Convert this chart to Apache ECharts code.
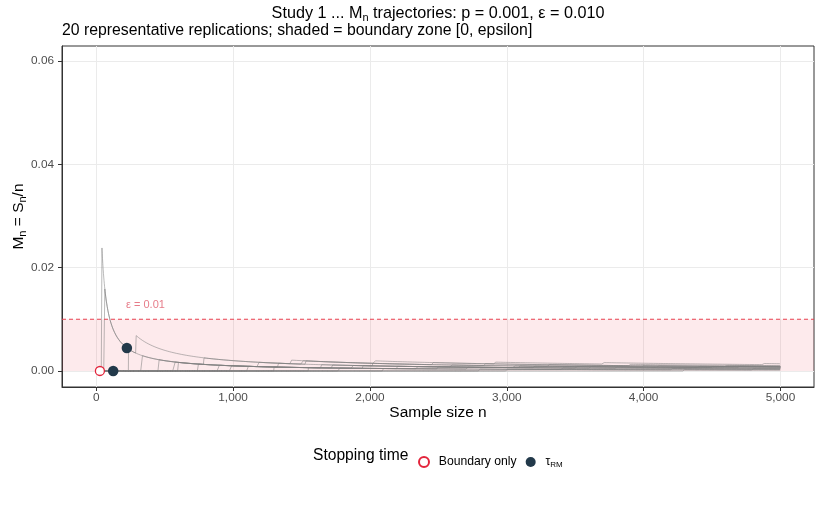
<!DOCTYPE html>
<html><head><meta charset="utf-8">
<script src="https://cdn.jsdelivr.net/npm/echarts@6/dist/echarts.min.js"></script>
<style>html,body{margin:0;padding:0;background:#fff}#c{width:821px;height:510px}</style>
</head><body><div id="c"></div>
<script>
// ---- data ----
const EPSILON = 0.01;
const N_MAX = 5000;
const X_MIN = -250, X_MAX = 5245;
const Y_MIN = -0.0031, Y_MAX = 0.0629;
// n at which each replication records a success (S_n increments); M_n = S_n / n
const rep01 = [42, 292, 1428, 2040, 2920, 3700, 4870];
const rep02 = [63];
const rep03 = [];
const rep04 = [];
const rep05 = [236, 788, 1533, 2462];
const rep06 = [338, 1190, 2020, 2840, 3900];
const rep07 = [460, 1333, 1513, 3300];
const rep08 = [577, 1647, 2600, 4100];
const rep09 = [601, 1728, 3050];
const rep10 = [747, 1878, 3500, 4500];
const rep11 = [990, 2200, 3200, 4700];
const rep12 = [1112, 2350, 3800];
const rep13 = [1781, 2700];
const rep14 = [1300, 2500, 3600, 4400];
const rep15 = [2100, 3400];
const rep16 = [1550, 4200];
const rep17 = [2800];
const rep18 = [900, 1950, 3100, 4000, 4600];
const rep19 = [3000, 4800];
const rep20 = [4300];
const successTimes = [rep01, rep02, rep03, rep04, rep05, rep06, rep07, rep08, rep09, rep10,
                      rep11, rep12, rep13, rep14, rep15, rep16, rep17, rep18, rep19, rep20];
// stopping time of each replication (N_MAX = ran to the end)
const stopTimes = [N_MAX, 224, 27, 124, N_MAX, N_MAX, N_MAX, N_MAX, N_MAX, N_MAX,
                   N_MAX, N_MAX, N_MAX, N_MAX, N_MAX, N_MAX, N_MAX, N_MAX, N_MAX, N_MAX];
// stopping rule that fired ('boundary', 'rm', or '' when none)
const stopRule = ['', 'rm', 'boundary', 'rm', '', '', '', '', '', '',
                  '', '', '', '', '', '', '', '', '', ''];
const xTicks = [0, 1000, 2000, 3000, 4000, 5000];
const yTicks = [0, 0.02, 0.04, 0.06];
const epsLabelN = 360;
const epsLabelM = 0.0127;

// ---- build ----
function trajectory(succ, stop) {
  const pts = []; let s = 0, j = 0;
  for (let n = 1; n <= stop; n++) {
    while (j < succ.length && succ[j] === n) { s++; j++; }
    pts.push([n, s / n]);
  }
  return pts;
}
const trajs = successTimes.map((s, i) => trajectory(s, stopTimes[i]));
const boundaryPts = [], rmPts = [];
trajs.forEach((t, i) => {
  const last = t[t.length - 1];
  if (stopRule[i] === 'boundary') boundaryPts.push(last);
  if (stopRule[i] === 'rm') rmPts.push(last);
});

const FONT = '"Liberation Sans", Arial, Helvetica, sans-serif';
const series = [];
// boundary zone band
series.push({
  type: 'line', name: 'zone', data: [], silent: true, z: 0,
  markArea: {
    silent: true,
    itemStyle: { color: 'rgba(240,60,80,0.11)', borderWidth: 0 },
    data: [[{ yAxis: 0 }, { yAxis: EPSILON }]]
  }
});
trajs.forEach((t, i) => series.push({
  type: 'line', name: 'rep' + (i + 1), data: t, showSymbol: false, symbol: 'none',
  clip: false, silent: true, z: 2,
  itemStyle: { color: '#7f7f7f' },
  lineStyle: { color: 'rgba(127,127,127,0.6)', width: 0.9 }
}));
// epsilon threshold line
series.push({
  type: 'line', name: 'epsLine', data: [[X_MIN, EPSILON], [X_MAX, EPSILON]],
  showSymbol: false, symbol: 'none', silent: true, z: 4,
  emphasis: { disabled: true },
  color: '#E8404F',
  itemStyle: { color: '#E8404F' },
  lineStyle: { color: '#E8404F', type: [4, 3], width: 1.1 }
});
series.push({
  type: 'scatter', name: 'eps', data: [[epsLabelN, epsLabelM]], symbolSize: 0, silent: true, z: 3,
  itemStyle: { color: '#E04A5A' },
  label: { show: true, position: 'inside', formatter: 'ε = 0.01', color: '#E05A6A',
           fontFamily: FONT, fontSize: 11 }
});
series.push({
  type: 'scatter', name: 'Boundary only', data: boundaryPts, symbol: 'circle', symbolSize: 9, z: 5,
  itemStyle: { color: '#ffffff', borderColor: '#E3243B', borderWidth: 1.3, opacity: 1 }
});
series.push({
  type: 'scatter', name: 'tau', data: rmPts, symbol: 'circle', symbolSize: 10.5, z: 5,
  itemStyle: { color: '#22394A', borderWidth: 0, opacity: 1 }
});

const chart = echarts.init(document.getElementById('c'), null, { renderer: 'canvas' });
chart.setOption({
  animation: false,
  backgroundColor: '#ffffff',
  textStyle: { fontFamily: FONT },
  title: [{
    text: 'Study 1 ... M{sub|n} trajectories: p = 0.001, ε = 0.010',
    left: 438, textAlign: 'center', top: 4, padding: 0,
    textStyle: { fontFamily: FONT, fontSize: 16.2, fontWeight: 'normal', color: '#000',
      rich: { sub: { fontSize: 11, padding: [8, 0, 0, 0], fontFamily: FONT } } }
  }, {
    text: '20 representative replications; shaded = boundary zone [0, epsilon]',
    left: 62, top: 23, padding: 0,
    textStyle: { fontFamily: FONT, fontSize: 15.8, fontWeight: 'normal', color: '#000' }
  }],
  grid: { left: 62, right: 7, top: 46, bottom: 123, outerBoundsMode: 'none', containLabel: false,
          show: true, borderColor: '#333333', borderWidth: 1, backgroundColor: 'transparent' },
  legend: {
    data: ['Boundary only', 'tau'], left: 413, top: 451, itemGap: 9, itemWidth: 19.5, itemHeight: 10,
    formatter: n => n === 'tau' ? '{t|τ}{s|RM}' : n,
    textStyle: { fontFamily: FONT, fontSize: 12.2, color: '#000',
      rich: { t: { fontSize: 12.2, fontFamily: FONT }, s: { fontSize: 8, padding: [5, 0, 0, 0], fontFamily: FONT } } }
  },
  graphic: [{
    type: 'text', x: 313, y: 456,
    style: { text: 'Stopping time', font: '15.6px ' + FONT, fill: '#000', verticalAlign: 'middle' }
  }],
  xAxis: {
    type: 'value', min: X_MIN, max: X_MAX,
    name: 'Sample size n', nameLocation: 'middle', nameGap: 18, nameMoveOverlap: false,
    nameTextStyle: { fontFamily: FONT, fontSize: 15.5, color: '#000' },
    axisLine: { show: true, onZero: false, lineStyle: { color: '#333', width: 1 } },
    axisTick: { show: true, length: 4, customValues: xTicks, lineStyle: { color: '#333' } },
    axisLabel: { customValues: xTicks, color: '#4D4D4D', fontSize: 11.8, margin: 5,
      formatter: v => v.toLocaleString('en-US') },
    splitLine: { show: true, lineStyle: { color: '#EBEBEB', width: 1 } }
  },
  yAxis: {
    type: 'value', min: Y_MIN, max: Y_MAX,
    name: 'M{sub|n} = S{sub|n}/n', nameLocation: 'middle', nameGap: 34, nameRotate: 90, nameMoveOverlap: false,
    nameTextStyle: { fontFamily: FONT, fontSize: 15.5, color: '#000',
      rich: { sub: { fontSize: 11, padding: [8, 0, 0, 0], fontFamily: FONT } } },
    axisLine: { show: true, onZero: false, lineStyle: { color: '#333', width: 1 } },
    axisTick: { show: true, length: 4, customValues: yTicks, lineStyle: { color: '#333' } },
    axisLabel: { customValues: yTicks, color: '#4D4D4D', fontSize: 11.8, margin: 8,
      formatter: v => v.toFixed(2) },
    splitLine: { show: true, lineStyle: { color: '#EBEBEB', width: 1 } }
  },
  series: series
});
</script></body></html>
